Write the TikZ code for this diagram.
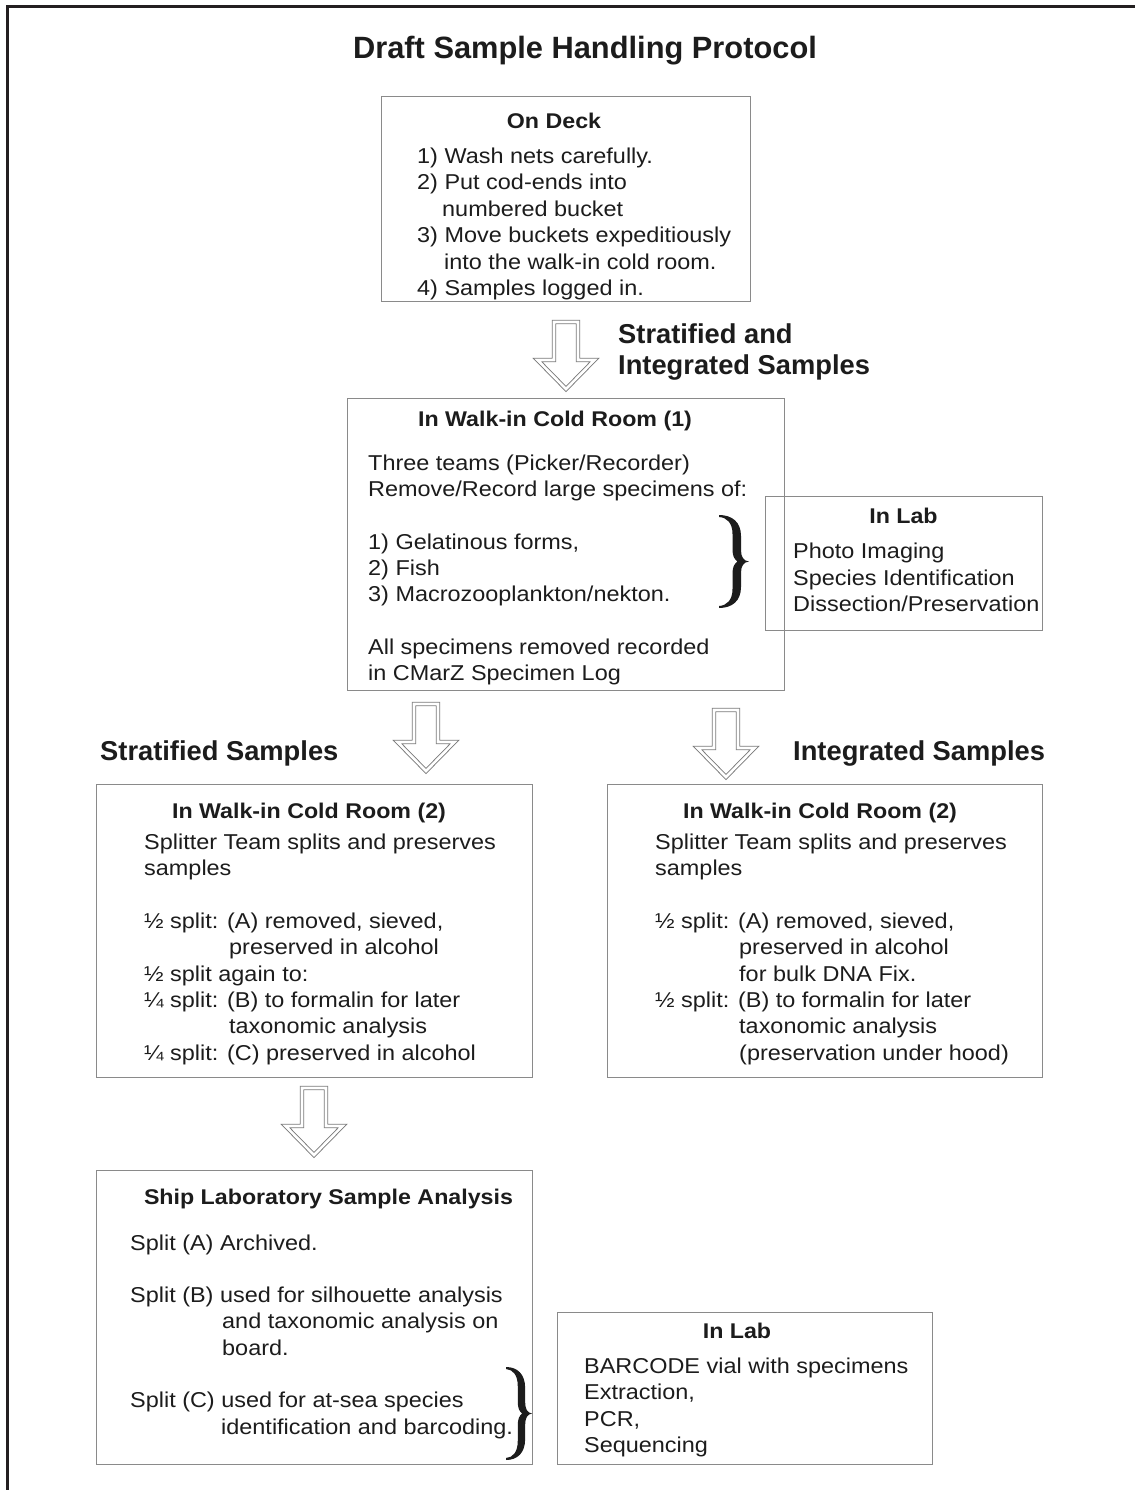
\documentclass[tikz,border=0pt]{standalone}
\usepackage{fontspec}
\setmainfont{Liberation Sans}[FakeStretch=1.09]
\newfontfamily\bigfont{Liberation Sans}
\definecolor{ink}{HTML}{1C1C1C}
\definecolor{boxgray}{HTML}{8A8A8A}
\definecolor{arrowgray}{HTML}{7A7A7A}
\definecolor{framecol}{HTML}{231F20}
\begin{document}
\begin{tikzpicture}[x=1pt,y=-1pt,
  box/.style={draw=boxgray, line width=1.3pt, inner sep=0pt, anchor=north west},
  txt/.style={anchor=base west, inner sep=0pt, font=\fontsize{21.5}{26}\selectfont, text=ink},
  ttl/.style={anchor=base, inner sep=0pt, font=\bfseries\fontsize{21.3}{26}\selectfont, text=ink},
  big/.style={anchor=base west, inner sep=0pt, font=\bigfont\bfseries\fontsize{27.3}{31}\selectfont, text=ink},
  arrowline/.style={draw=arrowgray, line width=0.9pt, double=white, double distance=2.6pt, line join=miter},
  hollowdown/.pic={\path[arrowline] (-12,2) -- (-12,40) -- (-28.5,40) -- (0,69) -- (28.5,40) -- (12,40) -- (12,2) -- cycle;},
  bracepic/.pic={\fill[ink] (0,0) .. controls (13,0) and (22,7) .. (22,21) -- (22,35) .. controls (22,42) and (24.5,46) .. (30,46.5)
     .. controls (24.5,47) and (22,51) .. (22,58) -- (22,72) .. controls (22,86) and (13,93) .. (0,93)
     -- (0,91) .. controls (8,90.5) and (13.5,85) .. (13.5,74) -- (13.5,58) .. controls (13.5,52) and (15.5,48.5) .. (18.5,46.5)
     .. controls (15.5,44.5) and (13.5,41) .. (13.5,35) -- (13.5,19) .. controls (13.5,8) and (8,2.5) .. (0,2) -- cycle;}
]
\useasboundingbox (0,0) rectangle (1135,1490);
\fill[white] (0,0) rectangle (1135,1490);
% outer frame (top and left only)
\draw[framecol, line width=3pt] (7,1490) -- (7,7) -- (1135,7);

% title
\node[anchor=base, inner sep=0pt, font=\bigfont\bfseries\fontsize{30.8}{36}\selectfont, text=ink] (title) at (585,58.5) {Draft Sample Handling Protocol};

% boxes
\node[box, minimum width=369pt, minimum height=205pt] (deck) at (381,96) {};
\node[box, minimum width=437pt, minimum height=292pt] (room1) at (347,398) {};
\node[box, minimum width=277pt, minimum height=134pt] (lab1) at (765,496) {};
\node[box, minimum width=436pt, minimum height=293pt] (strat) at (96,784) {};
\node[box, minimum width=435pt, minimum height=293pt] (integ) at (607,784) {};
\node[box, minimum width=436pt, minimum height=294pt] (ship) at (96,1170) {};
\node[box, minimum width=375pt, minimum height=152pt] (lab2) at (557,1312) {};

% On Deck
\node[ttl] (deckT) at (554,129) {On Deck};
\node[txt] (d1) at (417,163.5) {1) Wash nets carefully.};
\node[txt] (d2) at (417,189.9) {2) Put cod-ends into};
\node[txt] (d3) at (442,216.3) {numbered bucket};
\node[txt] (d4) at (417,242.7) {3) Move buckets expeditiously};
\node[txt] (d5) at (444,269.1) {into the walk-in cold room.};
\node[txt] (d6) at (417,295.5) {4) Samples logged in.};

% arrow 1 and label
\pic (a1) at (566,320) {hollowdown};
\node[big] (lbl1) at (618,343.5) {Stratified and};
\node[big] (lbl2) at (618,374.5) {Integrated Samples};

% Walk-in cold room (1)
\node[ttl] (room1T) at (555,426) {In Walk-in Cold Room (1)};
\node[txt] (r1) at (368,470.3) {Three teams (Picker/Recorder)};
\node[txt] (r2) at (368,496.6) {Remove/Record large specimens of:};
\node[txt] (r3) at (368,549.2) {1) Gelatinous forms,};
\node[txt] (r4) at (368,575.5) {2) Fish};
\node[txt] (r5) at (368,601.8) {3) Macrozooplankton/nekton.};
\node[txt] (r6) at (368,654.4) {All specimens removed recorded};
\node[txt] (r7) at (368,680.7) {in CMarZ Specimen Log};
\pic (br1) at (719,515) {bracepic};

% In Lab 1
\node[ttl] (lab1T) at (903.5,523.5) {In Lab};
\node[txt] (l1) at (793,558.5) {Photo Imaging};
\node[txt] (l2) at (793,585) {Species Identification};
\node[txt] (l3) at (793,611.3) {Dissection/Preservation};

% arrows 2,3 and labels
\pic (a2) at (426,702) {hollowdown};
\pic (a3) at (726,708) {hollowdown};
\node[big] (lbl3) at (100,760) {Stratified Samples};
\node[big] (lbl4) at (793,760) {Integrated Samples};

% Stratified box
\node[ttl] (stratT) at (309,818) {In Walk-in Cold Room (2)};
\node[txt] (s1) at (144,849.5) {Splitter Team splits and preserves};
\node[txt] (s2) at (144,875.8) {samples};
\node[txt] (s3) at (144,928.5) {½ split: (A) removed, sieved,};
\node[txt] (s4) at (229,954.8) {preserved in alcohol};
\node[txt] (s5) at (144,981.1) {½ split again to:};
\node[txt] (s6) at (144,1007.5) {¼ split: (B) to formalin for later};
\node[txt] (s7) at (229,1033.7) {taxonomic analysis};
\node[txt] (s8) at (144,1060) {¼ split: (C) preserved in alcohol};

% Integrated box
\node[ttl] (integT) at (820,818) {In Walk-in Cold Room (2)};
\node[txt] (i1) at (655,849.5) {Splitter Team splits and preserves};
\node[txt] (i2) at (655,875.8) {samples};
\node[txt] (i3) at (655,928.5) {½ split: (A) removed, sieved,};
\node[txt] (i4) at (739,954.8) {preserved in alcohol};
\node[txt] (i5) at (739,981.1) {for bulk DNA Fix.};
\node[txt] (i6) at (655,1007.5) {½ split: (B) to formalin for later};
\node[txt] (i7) at (739,1033.7) {taxonomic analysis};
\node[txt] (i8) at (739,1060) {(preservation under hood)};

% arrow 4
\pic (a4) at (314,1086) {hollowdown};

% Ship lab
\node[ttl] (shipT) at (328.5,1204) {Ship Laboratory Sample Analysis};
\node[txt] (p1) at (130,1250) {Split (A) Archived.};
\node[txt] (p2) at (130,1302.6) {Split (B) used for silhouette analysis};
\node[txt] (p3) at (222,1328.9) {and taxonomic analysis on};
\node[txt] (p4) at (222,1355.2) {board.};
\node[txt] (p5) at (130,1407.8) {Split (C) used for at-sea species};
\node[txt] (p6) at (221,1434.1) {identification and barcoding.};
\pic[xscale=0.87] (br2) at (506,1367) {bracepic};

% In Lab 2
\node[ttl] (lab2T) at (737,1338.5) {In Lab};
\node[txt] (b1) at (584,1373.5) {BARCODE vial with specimens};
\node[txt] (b2) at (584,1399.8) {Extraction,};
\node[txt] (b3) at (584,1426.1) {PCR,};
\node[txt] (b4) at (584,1452.4) {Sequencing};
\end{tikzpicture}
\end{document}
